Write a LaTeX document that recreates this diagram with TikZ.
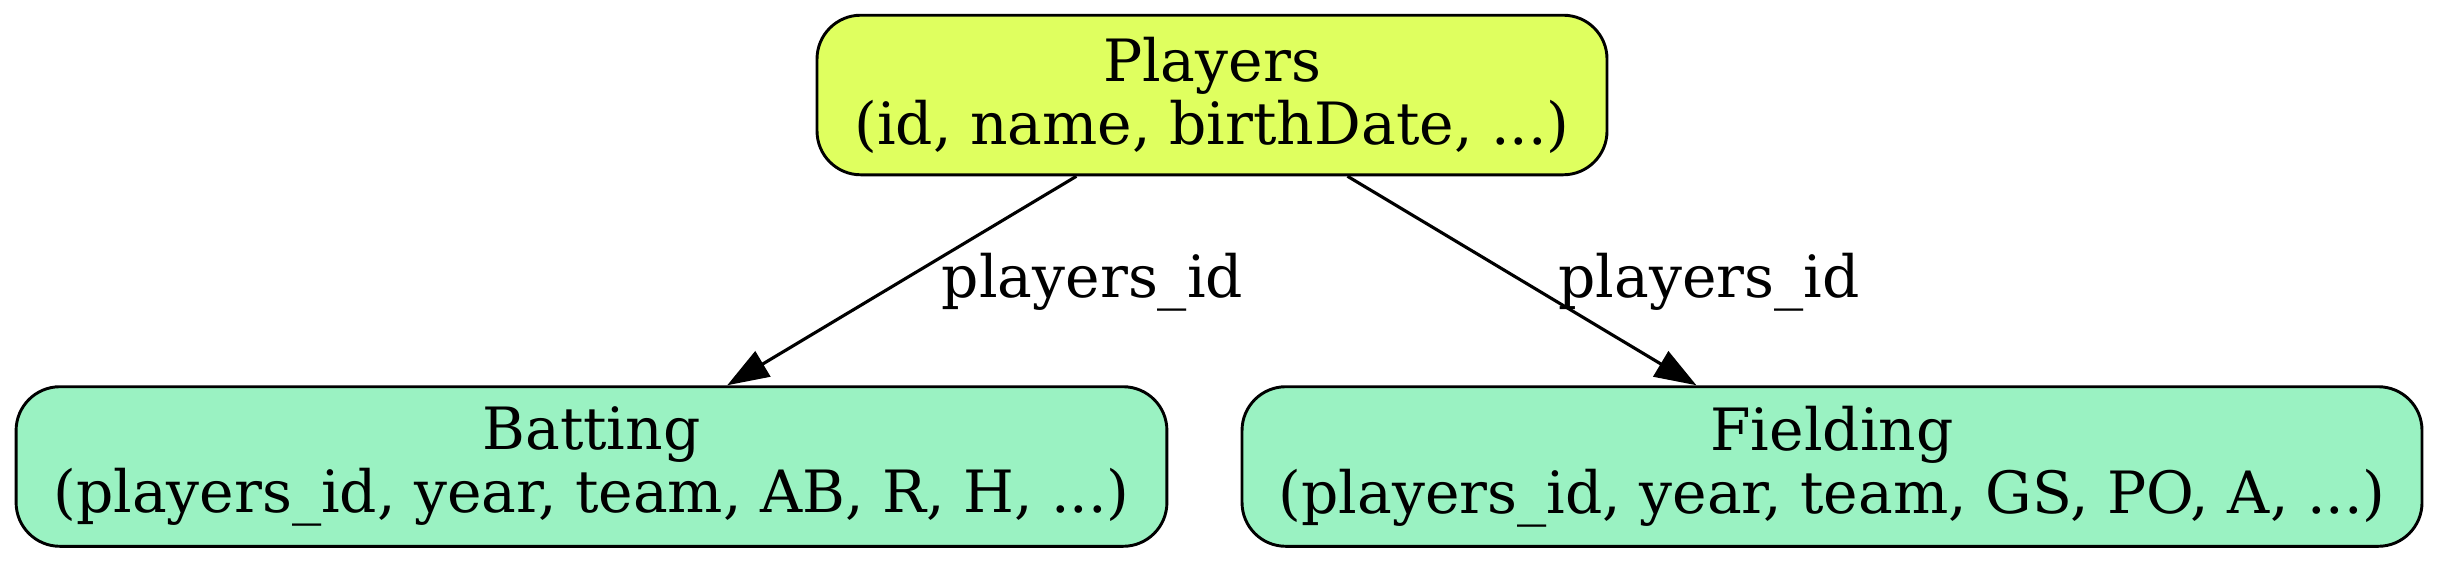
\documentclass[tikz,border=0pt]{standalone}
\usepackage{fontspec}
\setmainfont{DejaVu Serif}
\usetikzlibrary{arrows.meta}
\definecolor{playerfill}{HTML}{DFFF5F}
\definecolor{tablefill}{HTML}{9AF2C2}
\begin{document}
\begin{tikzpicture}[x=0.24pt,y=-0.24pt,
  entity/.style={draw=black, line width=0.7pt, rounded corners=10.5pt,
    align=center, inner sep=0pt, minimum height=38.3pt,
    font=\fontsize{14}{15.1}\selectfont},
  edgelabel/.style={anchor=base, inner sep=0pt, font=\fontsize{14}{15.1}\selectfont},
  link/.style={draw=black, line width=0.75pt, -{Triangle[length=10pt,width=7pt]}}]
\useasboundingbox (0,0) rectangle (2442,562);
\node[entity, fill=playerfill, minimum width=189.6pt] (P) at (1212,95)
  {Players\\(id, name, birthDate, ...)};
\node[entity, fill=tablefill, minimum width=276.2pt] (B) at (591.5,466.5)
  {Batting\\(players\_id, year, team, AB, R, H, ...)};
\node[entity, fill=tablefill, minimum width=283.2pt] (F) at (1832,466.5)
  {Fielding\\(players\_id, year, team, GS, PO, A, ...)};
\draw[link] (P) -- (B);
\draw[link] (P) -- (F);
\node[edgelabel] (LB) at (1092.5,297) {players\_id};
\node[edgelabel] (LF) at (1709,297) {players\_id};
\end{tikzpicture}
\end{document}
